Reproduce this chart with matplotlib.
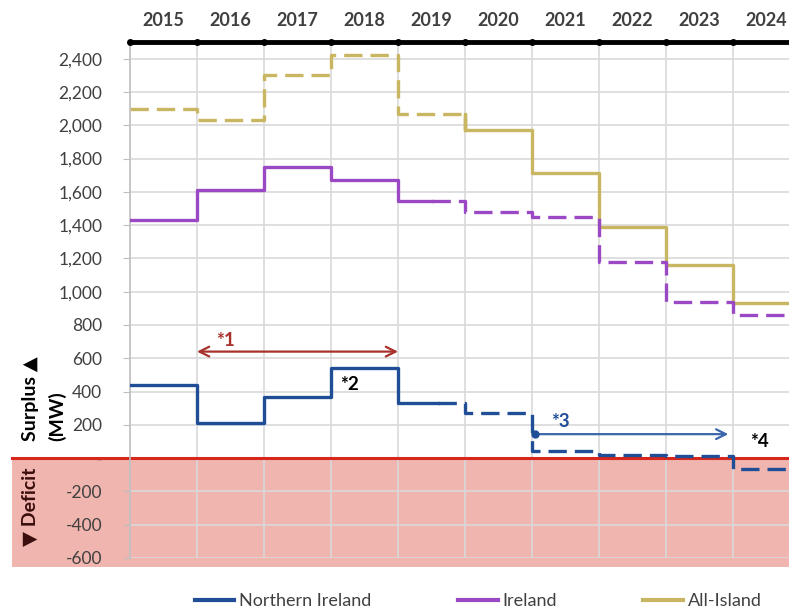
import numpy as np
import matplotlib
matplotlib.use("Agg")
import matplotlib.pyplot as plt
from matplotlib.patches import Rectangle
from matplotlib.transforms import blended_transform_factory

plt.rcParams['font.family'] = ['Lato', 'DejaVu Sans']

# ---- data (MW) ----
years = ['2015', '2016', '2017', '2018', '2019', '2020', '2021', '2022', '2023', '2024']
northern_ireland = [440, 210, 370, 540, 330, 270, 40, 20, 10, -65]
ireland = [1430, 1610, 1750, 1670, 1545, 1480, 1450, 1180, 935, 860]
all_island = [2100, 2030, 2300, 2420, 2070, 1970, 1710, 1390, 1160, 930]
y_ticks = [-600, -400, -200, 0, 200, 400, 600, 800, 1000, 1200, 1400,
           1600, 1800, 2000, 2200, 2400]

# ---- colours ----
C_NI = '#1F4E97'
C_IE = '#9B48C4'
C_AI = '#C9B662'
C_RED = '#D7261B'
C_SHADE = '#EFB5AE'
C_ARROW1 = '#A8322B'
C_ARROW3 = '#3C66AA'
C_TEXT = '#404040'
DASH = (5.5, 2.4)


def step_xy(vals):
    xs, ys = [0], [vals[0]]
    for i, v in enumerate(vals):
        if i > 0:
            xs.append(i)
            ys.append(v)
        xs.append(i + 1)
        ys.append(v)
    return np.array(xs, float), np.array(ys, float)


def split_step(vals, split):
    xs, ys = step_xy(vals)
    # value at split point
    idx = min(int(np.floor(split)), len(vals) - 1)
    v = vals[idx]
    left = xs <= split
    right = xs >= split
    xl = np.append(xs[left], split)
    yl = np.append(ys[left], v)
    xr = np.insert(xs[right], 0, split)
    yr = np.insert(ys[right], 0, v)
    return (xl, yl), (xr, yr)


fig = plt.figure(figsize=(7.89, 6.13), dpi=100)
ax = fig.add_axes([130 / 789, 55 / 613, 670 / 789, 516 / 613])
ax.set_xlim(0, len(years))
ax.set_ylim(-600, 2500)

# grid
ax.set_axisbelow(True)
ax.set_xticks(np.arange(len(years) + 1))
ax.set_yticks(y_ticks)
ax.grid(True, color='#D9D9D9', linewidth=1.2)
ax.tick_params(axis='x', which='major', length=0, labeltop=False, labelbottom=False)
ax.set_xticks(np.arange(len(years)) + 0.5, minor=True)
ax.set_xticklabels(years, minor=True)
ax.tick_params(axis='x', which='minor', length=0, top=True, bottom=False,
               labeltop=True, labelbottom=False, pad=9, labelsize=13,
               labelcolor=C_TEXT)
for lab in ax.get_xticklabels(minor=True):
    lab.set_fontweight('bold')

ax.set_yticklabels(['-' if t == 0 else f'{t:,}' for t in y_ticks])
ax.tick_params(axis='y', length=5, color='#BFBFBF', pad=15, labelsize=12.5,
               labelcolor=C_TEXT)

for s in ['right', 'bottom']:
    ax.spines[s].set_visible(False)
ax.spines['left'].set_color('#BFBFBF')
ax.spines['left'].set_linewidth(1.2)
ax.spines['top'].set_color('black')
ax.spines['top'].set_linewidth(3.5)
ax.plot(np.arange(len(years) + 1), [2500] * (len(years) + 1), 'o', color='black',
        ms=4, clip_on=False, zorder=5)

# deficit shading and zero line (extend to the left of the axes)
bt = blended_transform_factory(ax.transAxes, ax.transData)
ax.add_patch(Rectangle((-0.176, -655), 1.2, 655, transform=bt, facecolor=C_SHADE,
                       edgecolor='none', clip_on=False, zorder=0.1))
ax.plot([-0.176, 1.05], [0, 0], transform=bt, color=C_RED, lw=2.2, clip_on=False,
        zorder=1.5)

# series
lw = 2.4
(ai_l, ai_r) = split_step(all_island, 5.0)
ax.plot(*ai_l, color=C_AI, lw=lw, dashes=DASH, zorder=2)
ax.plot(*ai_r, color=C_AI, lw=lw, zorder=2)

(ie_l, ie_r) = split_step(ireland, 4.5)
ax.plot(*ie_l, color=C_IE, lw=lw, zorder=3)
ax.plot(*ie_r, color=C_IE, lw=lw, dashes=DASH, zorder=3)

(ni_l, ni_r) = split_step(northern_ireland, 4.6)
ax.plot(*ni_l, color=C_NI, lw=lw, zorder=4)
ax.plot(*ni_r, color=C_NI, lw=lw, dashes=DASH, zorder=4)

# annotations
ax.annotate('', xy=(1, 640), xytext=(4, 640),
            arrowprops=dict(arrowstyle='<->,head_length=0.7,head_width=0.35',
                            color=C_ARROW1, lw=1.6, shrinkA=0, shrinkB=0))
ax.text(1.42, 705, '*1', color=C_ARROW1, fontsize=13.5, fontweight='bold',
        ha='center', va='center')
ax.text(3.28, 445, '*2', color='black', fontsize=13.5, fontweight='bold',
        ha='center', va='center')
ax.annotate('', xy=(8.93, 144), xytext=(6.05, 144),
            arrowprops=dict(arrowstyle='->,head_length=0.7,head_width=0.35',
                            color=C_ARROW3, lw=1.6, shrinkA=0, shrinkB=0))
ax.plot([6.05], [144], marker='o', ms=5, color=C_NI, zorder=5)
ax.text(6.42, 222, '*3', color=C_NI, fontsize=13.5, fontweight='bold',
        ha='center', va='center')
ax.text(9.4, 102, '*4', color='black', fontsize=13.5, fontweight='bold',
        ha='center', va='center')

# side labels
fig.text(44 / 789, 1 - 441 / 613, 'Surplus \u25B2\n(MW)', rotation=90,
         fontsize=14, fontweight='bold', color='black', ha='center', va='bottom',
         multialignment='left', linespacing=1.6)
fig.text(30 / 789, 1 - 546 / 613, '\u25BC Deficit', rotation=90,
         fontsize=14, fontweight='bold', color='#3B0E0E', ha='center', va='bottom')

# legend
handles = [plt.Line2D([], [], color=c, lw=3) for c in (C_NI, C_IE, C_AI)]
fig.legend(handles, ['Northern Ireland', 'Ireland', 'All-Island'], ncol=3,
           loc='center', bbox_to_anchor=(478 / 789, 1 - 601 / 613), frameon=False,
           fontsize=13, labelcolor=C_TEXT, handlelength=2.2, handletextpad=0.25,
           columnspacing=4.8)

fig.savefig('out.png', dpi=100)
